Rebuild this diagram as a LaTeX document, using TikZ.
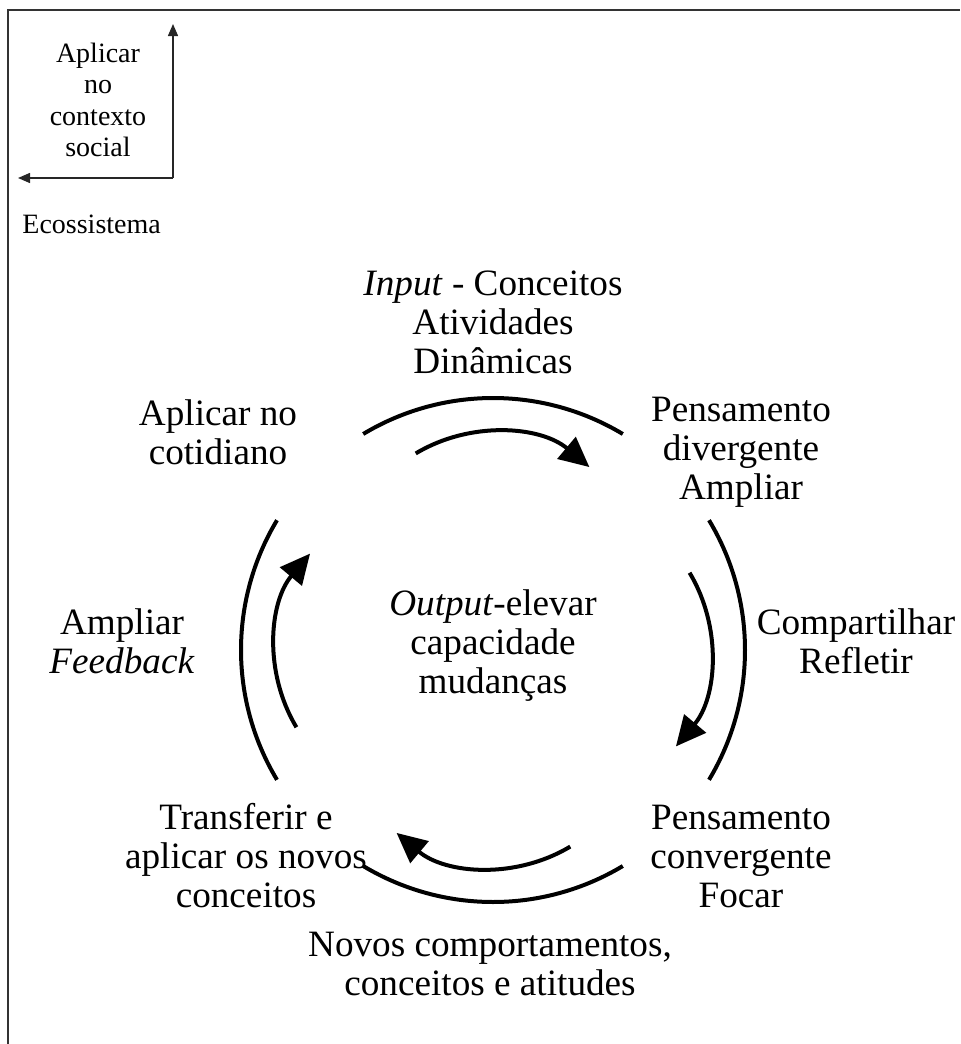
\documentclass[tikz,border=0pt]{standalone}
\usepackage{fontspec}
\setmainfont{Liberation Serif}
\usetikzlibrary{arrows.meta}

\begin{document}
\begin{tikzpicture}[x=0.5pt,y=0.5pt,
                    lbl/.style={align=center,inner sep=0pt,font=\fontsize{18.6}{19.5}\selectfont},
                    small/.style={align=center,inner sep=0pt,font=\fontsize{14}{15.75}\selectfont},
                    ring/.style={line width=2pt},
                    turn/.style={line width=2pt,-{Triangle[length=15pt,width=14pt]}},
                    thin arrow/.style={line width=0.7pt,black!85,-{Triangle[length=6pt,width=5pt]}}]
                    \useasboundingbox (0,0) rectangle (960,-1044);
                    \draw[line width=1pt,black!80] (960,-10) -- (8,-10) -- (8,-1044);
                    \coordinate (corner) at (173,-178);
                    \coordinate (up) at (173,-24);
                    \coordinate (back) at (18,-178);
                    \draw[thin arrow] (corner) -- (up);
                    \draw[thin arrow] (corner) -- (back);
                    \node[small] (ctxsocial) at (98,-100) {Aplicar\\no\\contexto\\social};
                    \node[small,anchor=west] (ecosys) at (22,-224) {Ecossistema};
                    \node[lbl] (input) at (493,-322) {\textit{Input} - Conceitos\\Atividades\\Dinâmicas};
                    \node[lbl] (cotidiano) at (218,-432) {Aplicar no\\cotidiano};
                    \node[lbl] (divergente) at (741,-452) {Pensamento\\divergente\\Ampliar};
                    \node[lbl] (compartilhar) at (856,-641) {Compartilhar\\Refletir};
                    \node[lbl] (feedback) at (122,-641) {Ampliar\\\textit{Feedback}};
                    \node[lbl] (output) at (493,-646) {\textit{Output}-elevar\\capacidade\\mudanças};
                    \node[lbl] (transferir) at (246,-856) {Transferir e\\aplicar os novos\\conceitos};
                    \node[lbl] (convergente) at (741,-856) {Pensamento\\convergente\\Focar};
                    \node[lbl] (novos) at (490,-964) {Novos comportamentos,\\conceitos e atitudes};
                    \begin{scope}[shift={(493,-650)}]
                        \foreach \r in {0,-90,-180,-270}{
                            \draw[ring] (\r+121:252) arc (\r+121:\r+59:252);
                            \begin{scope}[rotate=\r,shift={(0,68)}]
                                \draw[turn] (121:150) arc (121:50:150);
                            \end{scope}
                        }
                    \end{scope}
                \end{tikzpicture}
\end{document}
